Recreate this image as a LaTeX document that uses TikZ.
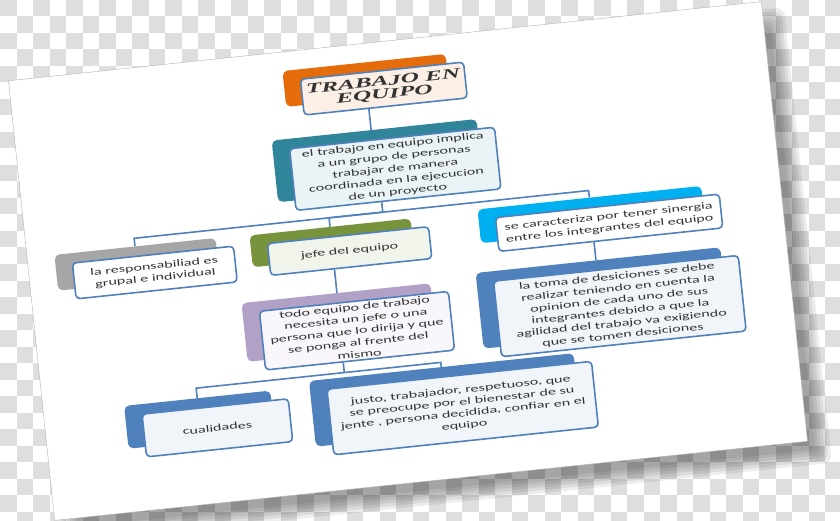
\documentclass[tikz,border=0pt]{standalone}
\usepackage{fontspec}
\setmainfont{Carlito}[FakeStretch=1.65]
\newfontfamily\titlefont{Liberation Serif}[FakeStretch=1.8]
\usepackage{xcolor}
\usepackage{tikz}

\definecolor{linkblue}{RGB}{79,129,189}
\definecolor{boxorange}{RGB}{228,108,10}
\definecolor{boxteal}{RGB}{49,133,155}
\definecolor{boxgray}{RGB}{166,166,166}
\definecolor{boxgreen}{RGB}{119,147,60}
\definecolor{boxcyan}{RGB}{0,176,240}
\definecolor{boxpurple}{RGB}{178,161,199}
\definecolor{boxblue}{RGB}{79,129,189}
\definecolor{checkgray}{RGB}{222,222,222}

\begin{document}
\begin{tikzpicture}[
    x=1pt, y=-1pt,
    font=\fontsize{9.8}{11.8}\selectfont,
    bgbox/.style={rounded corners=5pt, inner sep=0pt},
    box/.style={draw=linkblue, line width=1.6pt, fill=white, rounded corners=4pt,
      align=center, inner sep=1pt, text=black!80},
    dims/.style 2 args={minimum width=#1pt, minimum height=#2pt},
    link/.style={draw=linkblue, line width=1.6pt},
    checker/.style={fill=checkgray},
  ]
  % Background
  \useasboundingbox (0,0) rectangle (840,521);
  \foreach \j in {0,...,31}{
    \pgfmathtruncatemacro\odd{mod(\j,2)}
    \foreach \i in {0,2,...,50}
      \fill[checker] ({(\i+\odd)*16.5},{\j*16.5}) rectangle ++(16.5,16.5);
  }

  \begin{scope}[transform canvas={rotate around={6:(408,261)}}]
    % Paper
    \foreach \b in {0,3,...,15}
      \fill[black, opacity=0.07, rounded corners=8pt] (35.5+\b,48+\b) rectangle (808.5-\b,506-\b);
    \fill[white, draw=black!30, line width=0.4pt] (29.5,40) rectangle (786.5,482);

    % Top
    \node[bgbox, fill=boxorange, dims={164}{36}] (title-bg) at (385,77) {};
    \node[box, fill=boxorange!10, dims={164}{36}, inner sep=0pt,
      font=\titlefont\bfseries\itshape\fontsize{14}{13}\selectfont] (title) at (402,87) {TRABAJO EN\\EQUIPO};

    \node[bgbox, fill=boxteal, dims={206}{62}] (idea-bg) at (388,158) {};
    \node[box, fill=boxteal!10, dims={206}{62}] (idea) at (405,168)
      {el trabajo en equipo implica\\a un grupo de personas\\trabajar de manera\\coordinada en la ejecucion\\de un proyecto};

    % Second row
    \node[bgbox, fill=boxgray, dims={162}{36}] (resp-bg) at (138,236) {};
    \node[box, dims={162}{36}] (resp) at (155,246) {la responsabiliad es\\grupal e individual};

    \node[bgbox, fill=boxgreen, dims={162}{32}] (jefe-bg) at (334,235) {};
    \node[box, fill=boxgreen!10, dims={162}{32}] (jefe) at (351,245) {jefe del equipo};

    \node[bgbox, fill=boxcyan, dims={225}{34}] (sinergia-bg) at (595,234) {};
    \node[box, dims={225}{34}] (sinergia) at (612,244) {se caracteriza por tener sinergia\\entre los integrantes del equipo};

    % Third row
    \node[bgbox, fill=boxpurple, dims={190}{59}] (todo-bg) at (333,315) {};
    \node[box, fill=boxpurple!8, dims={190}{59}] (todo) at (350,325)
      {todo equipo de trabajo\\necesita un jefe o una\\persona que lo dirija y que\\se ponga al frente del\\mismo};

    \node[bgbox, fill=boxblue, dims={246}{76}] (toma-bg) at (597,318) {};
    \node[box, fill=boxblue!8, dims={246}{76}] (toma) at (614,328)
      {la toma de desiciones se debe\\realizar teniendo en cuenta la\\opinion de cada uno de sus\\integrantes debido a que la\\agilidad del trabajo va exigiendo\\que se tomen desiciones};

    % Bottom
    \node[bgbox, fill=boxblue, dims={147}{43}] (cual-bg) at (184,397) {};
    \node[box, fill=boxblue!8, dims={147}{43}] (cual) at (201,407) {cualidades};

    \node[bgbox, fill=boxblue, dims={266}{66}] (justo-bg) at (430,403) {};
    \node[box, fill=boxblue!8, dims={266}{66}] (justo) at (447,413)
      {justo, trabajador, respetuoso, que\\se preocupe por el bienestar de su\\jente , persona decidida, confiar en el\\equipo};

    % Connectors
    \draw[link] (title-bg.center |- title.south) -- (title-bg.center |- idea-bg.north);
    \draw[link] (idea-bg.center |- idea.south) -- ++(0,10) coordinate (bus1);
    \draw[link] (resp-bg.north) |- (bus1) -| (sinergia-bg.north);
    \draw[link] (bus1) -| (jefe-bg.north);
    \draw[link] (jefe-bg.center |- jefe.south) -- (jefe-bg.center |- todo-bg.north);
    \draw[link] (sinergia-bg.center |- sinergia.south) -- (sinergia-bg.center |- toma-bg.north);
    \draw[link] (todo-bg.center |- todo.south) -- ++(0,10) coordinate (bus2);
    \draw[link] (cual-bg.north) |- (bus2) -| (justo-bg.north);
  \end{scope}
\end{tikzpicture}
\end{document}
